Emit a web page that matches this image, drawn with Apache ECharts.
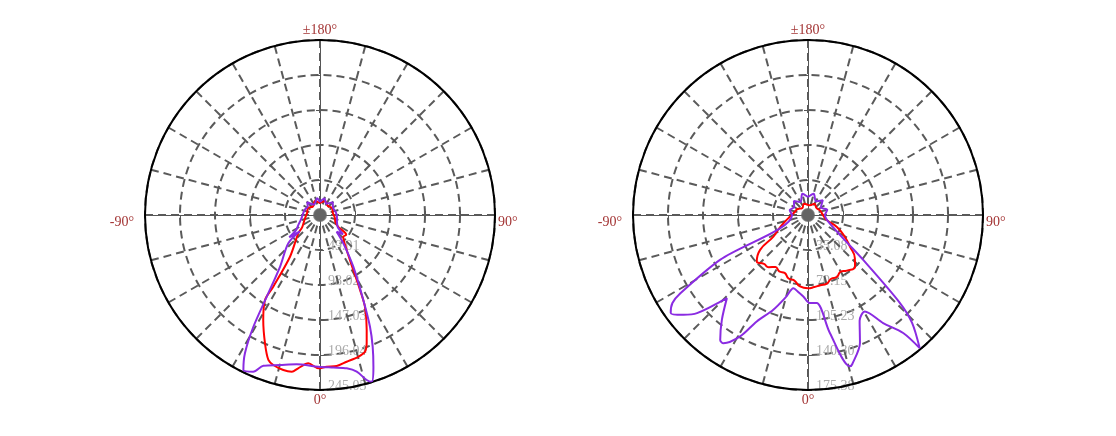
<!DOCTYPE html>
<html>
<head>
<meta charset="utf-8">
<script src="https://cdn.jsdelivr.net/npm/echarts@6/dist/echarts.min.js"></script>
<style>
html,body{margin:0;padding:0;background:#fff;}
#chart{width:1116px;height:436px;}
</style>
</head>
<body>
<div id="chart"></div>
<script>
// ---------- DATA (angles in degrees: 0 = down, 90 = right, ±180 = up) ----------
const angleLabels = { 0: '{b|0°}', 90: '{r|90°}', 180: '{t|±180°}', 270: '{l|-90°}' };

// Left chart
const leftMax = 245.05;
const leftTicks = [49.01, 98.02, 147.03, 196.04, 245.05];
const leftRedAngles = [-180,-160,-140,-120,-100,-80,-65,-55,-49.8,-35.7,-33.1,-32.9,-28.4,-23.2,-19.6,-17.3,-13.3,-10.2,-8.1,-4.5,-0.6,2.5,6.3,10.3,15.1,18.2,20.0,22.1,26.1,28.1,31.2,37.3,47,53,57,65,80,100,120,140,160,180];
const leftRedValues = [16.8,21,15.4,19.6,18.2,21,25.2,30.8,39.8,72,119.9,141.7,167.1,195.5,215.5,220,223.1,222.9,216.8,208.4,214.7,212.6,212.7,208.8,205.6,201.5,191.1,173.8,143,119,90,61.6,44.5,46,30.4,23.8,21,18.2,19.6,16.8,21,16.8];
const leftPurpleAngles = [-180,-170,-150,-135,-125,-110,-95,-85,-75,-65,-58,-54,-51,-48.2,-37.7,-33.1,-30.8,-28.5,-26.3,-23.1,-20.6,-15,-8.9,-0.6,5,9.9,13.2,15.8,17.2,19.4,21.8,24.1,27.0,32.8,39.5,45,50,55,60,70,85,100,120,135,150,165,180];
const leftPurpleValues = [18.2,23.8,16.8,25.2,21,22.4,23.8,25.2,28,33.6,39.2,53.2,36.4,59.5,91.6,136.5,182.2,220.3,242.1,238.5,225.5,217.5,211.6,212.4,214.4,217.9,225.3,240.1,244.4,225.2,198.6,171.4,133.6,86.1,51.4,33,42,30.8,28,25.2,23.8,22.4,21,25.2,18.2,23.8,18.2];

// Right chart
const rightMax = 175.38;
const rightTicks = [35.08, 70.15, 105.23, 140.30, 175.38];
const rightRedAngles = [-180,-160,-140,-120,-100,-85,-73.8,-65,-58,-53.9,-47.7,-42,-37,-32,-27,-22,-17,-12,-6.4,0,5,10,15,20,25,30,35,42.3,47.3,53,60,67.8,75,90,110,130,150,170,180];
const rightRedValues = [10,12,9,12,14,18,24,32,40.9,59.4,69.4,66,65.5,61.5,63.5,62.5,66.5,67,72,73.5,72.5,71.5,71.5,68,68.5,65.5,68,70,63.9,52.6,42,31,19.4,15,13,11,13,10,10];
const rightPurpleAngles = [-180,-165,-150,-135,-120,-105,-90,-63,-58.5,-57,-54.5,-51.3,-48.5,-44.3,-39.4,-35.1,-33.4,-29.2,-25.7,-20.1,-15,-11.3,-7,-3.3,1.3,5.6,10.5,15.5,16.5,22.1,26,30.5,34.8,38.9,40,44,46.3,50.9,55.3,71.7,90,105,120,135,150,165,180];
const rightPurpleValues = [18,22,15,20,16,19,16,99,150,162,169,160,148.5,116.4,136,153,154,139.4,118.4,101.1,85,74.8,78,81.8,88.3,88.7,120.3,157.4,156,138.4,118,112.2,131.9,151.9,174.1,150,127,71,46,21.4,17,20,15,21,16,22,18];

const RED = '#ff0000';
const PURPLE = '#8a2be2';

// ---------- BUILD ----------
const charts = [
  { center: [320, 215], max: leftMax, ticks: leftTicks,
    red: [leftRedAngles, leftRedValues], purple: [leftPurpleAngles, leftPurpleValues] },
  { center: [808, 215], max: rightMax, ticks: rightTicks,
    red: [rightRedAngles, rightRedValues], purple: [rightPurpleAngles, rightPurpleValues] }
];
const R = 175;
const toAng = a => (a < 0 ? a + 360 : a);
const pairs = (angs, vals) => vals.map((v, i) => [v, toAng(angs[i])]);
const dash = [8, 5];
const serif = 'Liberation Serif';
const labColor = '#a33434';

const polar = [], angleAxis = [], radiusAxis = [], series = [];
charts.forEach((c, ci) => {
  const base = polar.length;
  const interval = c.max / 5;
  polar.push({ center: c.center, radius: R });
  angleAxis.push({
    polarIndex: base, type: 'value', min: 0, max: 360, interval: 15,
    startAngle: 270, clockwise: false, z: 3,
    axisLine: { show: true, lineStyle: { color: '#000', width: 2 } },
    axisTick: { show: false },
    axisLabel: { show: true, margin: 3, color: labColor, fontFamily: serif, fontSize: 14,
      formatter: v => angleLabels[v] || '',
      rich: {
        t: { color: labColor, fontFamily: serif, fontSize: 14 },
        b: { color: labColor, fontFamily: serif, fontSize: 14 },
        r: { color: labColor, fontFamily: serif, fontSize: 14, padding: [14, 0, 0, 0] },
        l: { color: labColor, fontFamily: serif, fontSize: 14, padding: [14, 8, 0, 0] }
      } },
    splitLine: { show: true, lineStyle: { color: '#5a5a5a', width: 2, type: dash } }
  });
  radiusAxis.push({
    polarIndex: base, type: 'value', min: 0, max: c.max, interval: interval,
    axisLine: { show: true, lineStyle: { color: '#555', width: 1 } },
    axisTick: { show: true, length: 4, lineStyle: { color: '#555' } },
    axisLabel: { show: true, showMinLabel: false, color: '#aaaaaa', fontFamily: serif, fontSize: 14,
      formatter: v => { const t = c.ticks.find(x => Math.abs(x - v) < 0.02); return t !== undefined ? '{v|' + t.toFixed(2) + '}' : ''; },
      rich: { v: { color: '#aaaaaa', fontFamily: serif, fontSize: 14, padding: [0, 0, 7, 0] } } },
    splitLine: { show: true, lineStyle: { color: '#5a5a5a', width: 2, type: dash } }
  });
  [0, 90, 180].forEach(sa => {
    const pi = polar.length;
    polar.push({ center: c.center, radius: R });
    angleAxis.push({ polarIndex: pi, type: 'value', min: 0, max: 360, startAngle: sa, show: false });
    radiusAxis.push({
      polarIndex: pi, type: 'value', min: 0, max: c.max, interval: interval,
      axisLine: { show: true, lineStyle: { color: '#555', width: 1 } },
      axisTick: { show: true, length: 4, lineStyle: { color: '#555' } },
      axisLabel: { show: false }, splitLine: { show: false }
    });
  });
  series.push({
    type: 'line', coordinateSystem: 'polar', polarIndex: base, symbol: 'none', smooth: ci === 1 ? 0.5 : 0.3,
    lineStyle: { color: RED, width: 2 }, data: pairs(c.red[0], c.red[1]), z: 4, silent: true
  });
  series.push({
    type: 'line', coordinateSystem: 'polar', polarIndex: base, symbol: 'none', smooth: 0.3,
    lineStyle: { color: PURPLE, width: 2 }, data: pairs(c.purple[0], c.purple[1]), z: 5, silent: true
  });
  series.push({
    type: 'scatter', coordinateSystem: 'polar', polarIndex: base, symbol: 'circle', symbolSize: 14,
    itemStyle: { color: '#666' }, data: [[0, 0]], z: 6, silent: true
  });
});

const chart = echarts.init(document.getElementById('chart'), null, { renderer: 'canvas' });
chart.setOption({
  animation: false,
  backgroundColor: '#fff',
  polar, angleAxis, radiusAxis, series
});
</script>
</body>
</html>
